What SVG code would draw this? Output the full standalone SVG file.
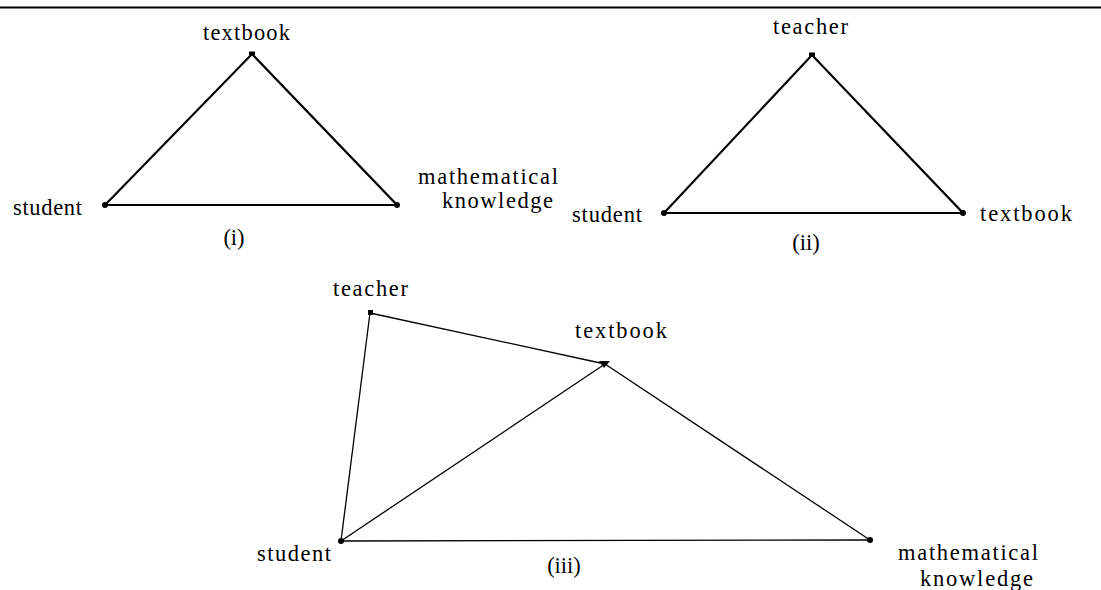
<svg xmlns="http://www.w3.org/2000/svg" width="1101" height="590" viewBox="0 0 1101 590">
<style>
text{font-family:"Liberation Serif","Times New Roman",serif;font-size:22.5px;fill:#000}
.thick{stroke:#000;stroke-width:2.2;fill:none;stroke-linecap:round}
.thin{stroke:#000;stroke-width:1.3;fill:none}
.dot{fill:#000}
</style>
<rect width="1101" height="590" fill="#fff"/>
<line x1="0" y1="7.5" x2="1101" y2="7.5" stroke="#000" stroke-width="2.2"/>
<g id="connectors">
<path class="thick" d="M105,205 L252,54 L397,205 Z"/>
<path class="thick" d="M664,213 L812,55 L963,213 Z"/>
<line class="thin" x1="370" y1="313" x2="605" y2="364"/>
<line class="thin" x1="370" y1="313" x2="341" y2="541"/>
<line class="thin" x1="341" y1="541" x2="605" y2="364"/>
<line class="thin" x1="605" y1="364" x2="870" y2="540"/>
<line class="thin" x1="341" y1="541" x2="870" y2="540"/>
</g>
<g id="i-textbook"><rect class="dot" x="249" y="51.5" width="6" height="4"/><text x="203" y="40" textLength="87" lengthAdjust="spacing">textbook</text></g>
<g id="i-student"><circle class="dot" cx="105" cy="205" r="3"/><text x="13" y="215" textLength="69" lengthAdjust="spacing">student</text></g>
<g id="i-math"><circle class="dot" cx="397" cy="205" r="3"/><text x="418" y="184" textLength="140" lengthAdjust="spacing">mathematical</text><text x="442" y="208" textLength="111" lengthAdjust="spacing">knowledge</text></g>
<g id="i-label"><text x="234" y="245" text-anchor="middle">(i)</text></g>
<g id="ii-teacher"><rect class="dot" x="809" y="52.5" width="6" height="4"/><text x="773" y="34" textLength="75" lengthAdjust="spacing">teacher</text></g>
<g id="ii-student"><circle class="dot" cx="664" cy="213" r="3"/><text x="572" y="222" textLength="70" lengthAdjust="spacing">student</text></g>
<g id="ii-textbook"><circle class="dot" cx="963" cy="213" r="3"/><text x="980" y="221" textLength="92" lengthAdjust="spacing">textbook</text></g>
<g id="ii-label"><text x="806" y="250" text-anchor="middle">(ii)</text></g>
<g id="iii-teacher"><rect class="dot" x="368" y="310" width="5" height="5"/><text x="333" y="296" textLength="75" lengthAdjust="spacing">teacher</text></g>
<g id="iii-textbook"><path class="dot" d="M599,361 L610,361 L604,368 Z"/><text x="575" y="338" textLength="92" lengthAdjust="spacing">textbook</text></g>
<g id="iii-student"><circle class="dot" cx="341" cy="541" r="3"/><text x="257" y="561" textLength="74" lengthAdjust="spacing">student</text></g>
<g id="iii-math"><circle class="dot" cx="870" cy="540" r="3"/><text x="898" y="560" textLength="140" lengthAdjust="spacing">mathematical</text><text x="920" y="586" textLength="113" lengthAdjust="spacing">knowledge</text></g>
<g id="iii-label"><text x="564" y="573" text-anchor="middle">(iii)</text></g>
</svg>
